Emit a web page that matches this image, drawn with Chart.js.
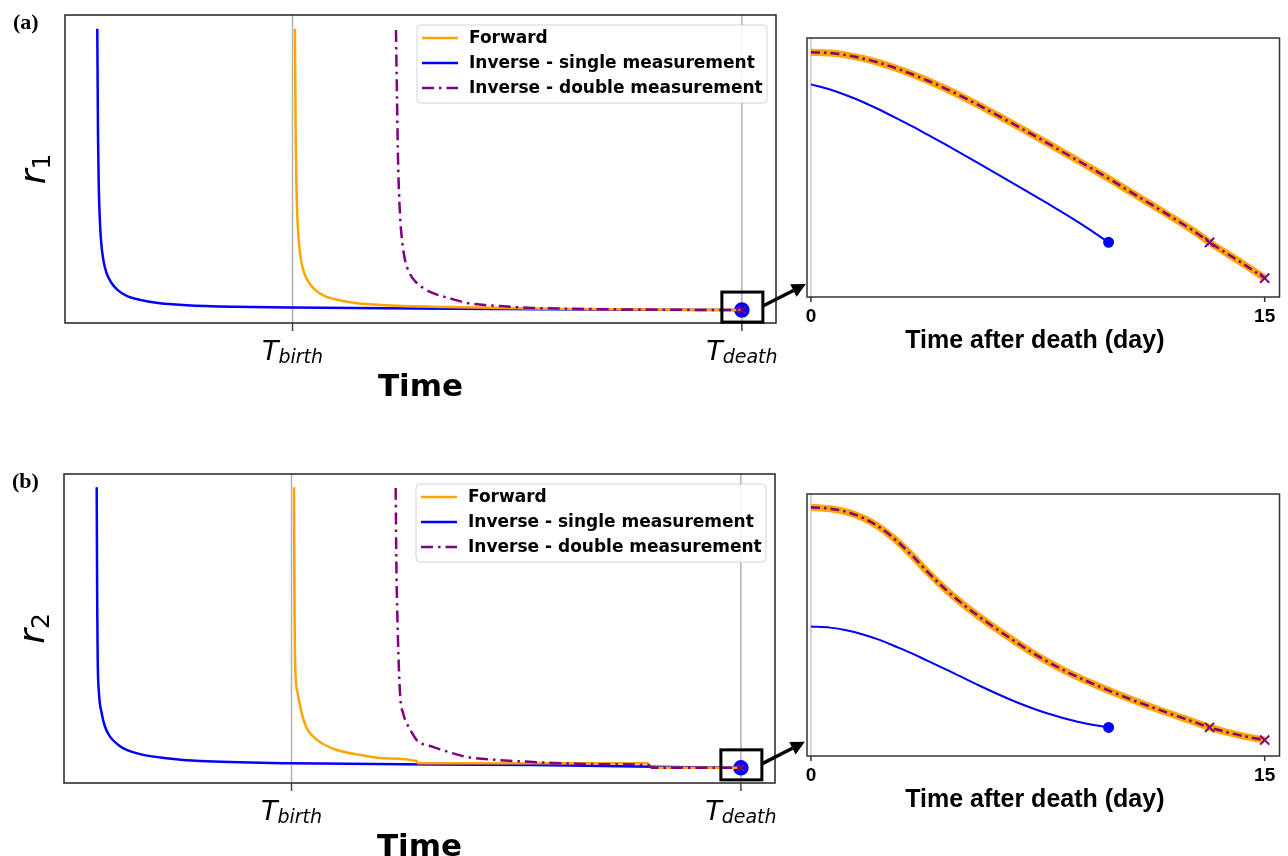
<!DOCTYPE html>
<html>
<head>
<meta charset="utf-8">
<script src="https://cdn.jsdelivr.net/npm/chart.js@4.4.1/dist/chart.umd.min.js"></script>
<style>
  body { margin: 0; background: #fff; width: 1288px; height: 856px; position: relative; overflow: hidden; }
  .box { position: absolute; }
</style>
</head>
<body>
<div class="box" style="left:0;top:0;width:812px;height:410px"><canvas id="mainA"></canvas></div>
<div class="box" style="left:0;top:459px;width:812px;height:397px"><canvas id="mainB"></canvas></div>
<div class="box" style="left:790px;top:20px;width:498px;height:345px"><canvas id="zoomA"></canvas></div>
<div class="box" style="left:790px;top:480px;width:498px;height:376px"><canvas id="zoomB"></canvas></div>
<script>
// main panels: time in arbitrary units (0-100 across the axis), r in arbitrary units
const tBirth = 32;
const tDeath = 95.2;
const legendLabels = ["Forward", "Inverse - single measurement", "Inverse - double measurement"];

const r1ForwardX = [32.34, 32.44, 32.54, 32.68, 32.86, 33.19, 33.66, 34.37, 35.3, 36.48, 38.35, 41.16, 44.92, 51.47, 68.2, 95.2];
const r1ForwardY = [95.5, 61.6, 45.4, 34.5, 27.0, 20.5, 16.1, 12.9, 10.5, 8.8, 7.5, 6.4, 5.8, 5.3, 4.6, 4.2];
const r1SingleX = [4.54, 4.64, 4.74, 4.88, 5.06, 5.39, 5.86, 6.57, 7.5, 8.68, 10.55, 13.36, 17.12, 23.67, 31.97, 54, 75, 95.2];
const r1SingleY = [95.5, 61.6, 45.4, 34.5, 27.0, 20.5, 16.1, 12.9, 10.5, 8.8, 7.5, 6.4, 5.8, 5.3, 5.0, 4.6, 4.4, 4.2];
const r1DoubleX = [46.55, 46.7, 46.84, 47.12, 47.4, 47.82, 48.38, 49.23, 50.35, 51.76, 54.15, 56.54, 61.18, 65.82, 75.25, 84.67, 95.2];
const r1DoubleY = [95.1, 72.4, 52.9, 35.1, 27.0, 20.5, 16.6, 13.6, 11.4, 9.7, 8.0, 6.5, 5.5, 4.9, 4.5, 4.3, 4.2];

const r2ForwardX = [32.35, 32.39, 32.43, 32.49, 32.87, 33.43, 34.04, 35.06, 36.71, 38.35, 41.63, 44.91, 49.6, 49.8, 82.1, 82.7, 95.2];
const r2ForwardY = [95.7, 72.2, 55.0, 39.8, 29.0, 22.6, 18.2, 15.0, 12.3, 10.7, 9.1, 8.0, 7.1, 6.4, 6.4, 4.9, 4.9];
const r2SingleX = [4.6, 4.64, 4.68, 4.74, 4.92, 5.3, 5.77, 6.47, 7.64, 8.82, 11.15, 14.44, 19.13, 32.03, 66, 95.2];
const r2SingleY = [95.7, 72.2, 55.0, 39.8, 29.0, 22.6, 18.2, 15.0, 12.3, 10.7, 9.1, 8.0, 7.1, 6.4, 5.8, 4.9];
const r2DoubleX = [46.65, 46.74, 46.9, 47.26, 47.68, 48.2, 48.8, 49.6, 51.9, 54.29, 56.68, 61.32, 65.96, 75.39, 82.14, 82.7, 95.2];
const r2DoubleY = [95.5, 72.2, 52.8, 29.0, 22.7, 19.4, 16.8, 13.9, 11.7, 9.9, 8.4, 7.4, 6.8, 6.1, 5.8, 4.9, 4.9];

// zoomed panels: days after death
const zoomTickDays = [0, 15];
const zoomDays = [0, 0.63, 1.17, 1.72, 2.27, 2.82, 3.37, 3.91, 4.46, 5.01, 5.56, 6.11, 6.66, 7.2,
  7.75, 8.3, 8.85, 9.4, 9.95, 10.49, 11.04, 11.59, 12.14, 12.69, 13.18, 13.78, 14.33, 15];
const zoomSingleDays = [0, 0.63, 1.17, 1.72, 2.27, 2.82, 3.37, 3.81, 4.46, 5.56, 6.66, 7.75, 8.85, 9.84];
const measureIdx = [24, 27];
const r1ZoomForward = [94.5, 94.2, 93.4, 92.1, 90.4, 88.3, 85.9, 83.3, 80.4, 77.3, 74.0, 70.5, 67.0, 63.5,
  59.9, 56.2, 52.5, 48.8, 45.0, 41.1, 37.2, 33.3, 29.3, 25.2, 21.1, 16.6, 12.5, 7.3];
const r1ZoomDouble = [94.5, 94.2, 93.4, 92.1, 90.4, 88.3, 85.9, 83.3, 80.4, 77.3, 74.0, 70.5, 67.0, 63.5,
  59.9, 56.2, 52.5, 48.8, 45.0, 41.1, 37.2, 33.3, 29.3, 25.2, 21.1, 16.6, 12.5, 7.3];
const r1ZoomSingle = [82.1, 80.1, 77.9, 75.3, 72.3, 69.1, 65.8, 63.0, 58.8, 51.5, 44.1, 36.6, 28.8, 21.1];
const r2ZoomForward = [94.9, 94.4, 93.2, 90.9, 87.3, 82.3, 76.2, 69.6, 63.5, 58.1, 53.2, 48.7, 44.4, 40.3,
  36.5, 33.1, 30.0, 27.2, 24.5, 22.0, 19.6, 17.3, 15.1, 12.9, 10.9, 9.0, 7.5, 6.1];
const r2ZoomDouble = [94.9, 94.4, 93.2, 90.9, 87.3, 82.3, 76.2, 69.6, 63.5, 58.1, 53.2, 48.7, 44.4, 40.3,
  36.5, 33.1, 30.0, 27.2, 24.5, 22.0, 19.6, 17.3, 15.1, 12.9, 10.9, 9.0, 7.5, 6.1];
const r2ZoomSingle = [49.4, 49.0, 48.0, 46.4, 44.3, 41.7, 39.0, 36.6, 33.1, 26.9, 21.2, 16.5, 13.0, 10.9];

const ORANGE = "#ffa500", BLUE = "#0000ff", PURPLE = "#800080";
const DJ = '"DejaVu Sans"';
const LS = '"Liberation Sans", Arial';

function pts(xs, ys) {
  return xs.map((x, i) => ({ x: x, y: ys[i] }));
}

function lastOnly(r) {
  return (c) => (c.dataIndex === c.dataset.data.length - 1 ? r : 0);
}

// base text followed by a subscript, centered on cx
function drawSub(ctx, base, sub, cx, y, baseFont, subFont, drop) {
  ctx.font = baseFont;
  const w1 = ctx.measureText(base).width;
  ctx.font = subFont;
  const w2 = ctx.measureText(sub).width;
  const x0 = cx - (w1 + w2) / 2;
  ctx.textAlign = "left";
  ctx.textBaseline = "alphabetic";
  ctx.font = baseFont;
  ctx.fillText(base, x0, y);
  ctx.font = subFont;
  ctx.fillText(sub, x0 + w1, y + drop);
}

function mainDecor(tag, ySub) {
  return {
    id: "mainDecor",
    beforeDatasetsDraw(chart) {
      const { ctx, chartArea: a, scales: { x } } = chart;
      ctx.save();
      ctx.strokeStyle = "#b0b0b0";
      ctx.lineWidth = 1.5;
      [tBirth, tDeath].forEach((t) => {
        const px = x.getPixelForValue(t);
        ctx.beginPath();
        ctx.moveTo(px, a.top);
        ctx.lineTo(px, a.bottom);
        ctx.stroke();
      });
      ctx.restore();
    },
    afterDatasetsDraw(chart) {
      const { ctx, chartArea: a, scales: { x, y } } = chart;
      ctx.save();
      // frame
      ctx.strokeStyle = "#222";
      ctx.lineWidth = 1.5;
      ctx.strokeRect(a.left, a.top, a.right - a.left, a.bottom - a.top);

      // ticks + labels
      ctx.fillStyle = "#000";
      [["birth", tBirth], ["death", tDeath]].forEach(([s, t]) => {
        const px = x.getPixelForValue(t);
        ctx.strokeStyle = "#444";
        ctx.beginPath();
        ctx.moveTo(px, a.bottom);
        ctx.lineTo(px, a.bottom + 8);
        ctx.stroke();
        drawSub(ctx, "T", s, px, a.bottom + 37, `italic 27px ${DJ}`, `italic 19px ${DJ}`, 3);
      });

      // axis titles
      ctx.font = `bold 31px ${DJ}`;
      ctx.textAlign = "center";
      ctx.fillText("Time", (a.left + a.right) / 2, a.bottom + 73);

      ctx.save();
      ctx.translate(a.left - 20, (a.top + a.bottom) / 2);
      ctx.rotate(-Math.PI / 2);
      drawSub(ctx, "r", ySub, 0, 0, `italic 36px ${DJ}`, `25px ${DJ}`, 5);
      ctx.restore();

      // panel tag
      ctx.font = 'bold 22px "Liberation Serif", "Times New Roman"';
      ctx.textAlign = "left";
      ctx.fillText(tag, a.left - 52, a.top + 14);

      // legend
      const lx = a.left + 352, ly = a.top + 10;
      ctx.beginPath();
      ctx.roundRect(lx, ly, 350, 78, 4);
      ctx.fillStyle = "rgba(255,255,255,0.85)";
      ctx.fill();
      ctx.strokeStyle = "#d4d4d4";
      ctx.lineWidth = 1;
      ctx.stroke();
      chart.data.datasets.forEach((ds, i) => {
        const ry = ly + 13 + i * 25;
        ctx.strokeStyle = ds.borderColor;
        ctx.lineWidth = 2.5;
        ctx.setLineDash(ds.borderDash || []);
        ctx.beginPath();
        ctx.moveTo(lx + 5, ry);
        ctx.lineTo(lx + 41, ry);
        ctx.stroke();
        ctx.setLineDash([]);
        ctx.fillStyle = "#000";
        ctx.font = `bold 17px ${DJ}`;
        ctx.textBaseline = "middle";
        ctx.fillText(ds.label, lx + 52, ry + 1);
      });
      ctx.textBaseline = "alphabetic";

      // zoom box + arrow at the death marker
      const mx = x.getPixelForValue(tDeath);
      const lastY = chart.data.datasets[1].data.slice(-1)[0].y;
      const my = y.getPixelForValue(lastY);
      ctx.strokeStyle = "#000";
      ctx.lineWidth = 3;
      ctx.strokeRect(mx - 20, my - 18, 41, 30);

      const sx = mx + 21, sy = my - 4, tx = mx + 64, ty = my - 26;
      const ang = Math.atan2(ty - sy, tx - sx);
      const c = Math.cos(ang), s = Math.sin(ang);
      const bx = tx - 14 * c, by = ty - 14 * s;
      ctx.lineWidth = 3.5;
      ctx.beginPath();
      ctx.moveTo(sx, sy);
      ctx.lineTo(bx, by);
      ctx.stroke();
      ctx.fillStyle = "#000";
      ctx.beginPath();
      ctx.moveTo(tx, ty);
      ctx.lineTo(bx - 7 * s, by + 7 * c);
      ctx.lineTo(bx + 7 * s, by - 7 * c);
      ctx.closePath();
      ctx.fill();
      ctx.restore();
    }
  };
}

const zoomDecor = {
  id: "zoomDecor",
  beforeDatasetsDraw(chart) {
    const { ctx, chartArea: a, scales: { x } } = chart;
    ctx.save();
    ctx.strokeStyle = "#c8c8c8";
    ctx.lineWidth = 1.5;
    const px = x.getPixelForValue(zoomTickDays[0]);
    ctx.beginPath();
    ctx.moveTo(px, a.top);
    ctx.lineTo(px, a.bottom);
    ctx.stroke();
    ctx.restore();
  },
  afterDatasetsDraw(chart) {
    const { ctx, chartArea: a, scales: { x } } = chart;
    ctx.save();
    ctx.strokeStyle = "#333";
    ctx.lineWidth = 1.5;
    ctx.strokeRect(a.left, a.top, a.right - a.left, a.bottom - a.top);
    ctx.fillStyle = "#000";
    ctx.textAlign = "center";
    ctx.font = `bold 19px ${LS}`;
    zoomTickDays.forEach((d) => {
      const px = x.getPixelForValue(d);
      ctx.beginPath();
      ctx.moveTo(px, a.bottom);
      ctx.lineTo(px, a.bottom + 5);
      ctx.stroke();
      ctx.fillText(String(d), px, a.bottom + 25);
    });
    ctx.font = `bold 25px ${LS}`;
    const cx = (x.getPixelForValue(zoomTickDays[0]) + x.getPixelForValue(zoomTickDays[1])) / 2 - 3;
    ctx.fillText("Time after death (day)", cx, a.bottom + 51);
    ctx.restore();
  }
};

function baseOptions(padding, xMin, xMax) {
  return {
    responsive: true,
    maintainAspectRatio: false,
    animation: false,
    events: [],
    layout: { padding: padding },
    plugins: { legend: { display: false }, tooltip: { enabled: false } },
    scales: {
      x: { type: "linear", display: false, min: xMin, max: xMax },
      y: { display: false, min: 0, max: 100 }
    },
    elements: { line: { cubicInterpolationMode: "monotone", fill: false } }
  };
}

function mainChart(id, tag, ySub, fwd, single, dbl, padding) {
  new Chart(document.getElementById(id), {
    type: "line",
    data: {
      datasets: [
        { label: legendLabels[0], data: fwd, borderColor: ORANGE, borderWidth: 2.5, pointRadius: 0, order: 1 },
        { label: legendLabels[1], data: single, borderColor: BLUE, backgroundColor: BLUE, borderWidth: 2.5,
          pointRadius: lastOnly(6.5), pointStyle: "circle", order: 2 },
        { label: legendLabels[2], data: dbl, borderColor: PURPLE, borderWidth: 2.5, borderDash: [12, 5, 2.5, 5],
          pointRadius: lastOnly(5), pointStyle: "crossRot", pointBorderWidth: 2, order: 0 }
      ]
    },
    options: baseOptions(padding, 0, 100),
    plugins: [mainDecor(tag, ySub)]
  });
}

function zoomChart(id, fwd, dbl, single, padding) {
  new Chart(document.getElementById(id), {
    type: "line",
    data: {
      datasets: [
        { label: legendLabels[0], data: pts(zoomDays, fwd), borderColor: ORANGE, borderWidth: 7, pointRadius: 0, order: 2 },
        { label: legendLabels[1], data: pts(zoomSingleDays, single), borderColor: BLUE, backgroundColor: BLUE,
          borderWidth: 2, pointRadius: lastOnly(4.5), order: 1 },
        { label: legendLabels[2], data: pts(zoomDays, dbl), borderColor: PURPLE, borderWidth: 2.5,
          borderDash: [9, 4, 2.5, 4], pointStyle: "crossRot", pointBorderWidth: 2,
          pointRadius: (c) => (measureIdx.includes(c.dataIndex) ? 6.5 : 0), order: 0 }
      ]
    },
    options: baseOptions(padding, -0.13, 15.49),
    plugins: [zoomDecor]
  });
}

mainChart("mainA", "(a)", "1", pts(r1ForwardX, r1ForwardY), pts(r1SingleX, r1SingleY), pts(r1DoubleX, r1DoubleY),
  { left: 65, top: 15, right: 36, bottom: 87 });
mainChart("mainB", "(b)", "2", pts(r2ForwardX, r2ForwardY), pts(r2SingleX, r2SingleY), pts(r2DoubleX, r2DoubleY),
  { left: 64, top: 15, right: 37, bottom: 73 });
zoomChart("zoomA", r1ZoomForward, r1ZoomDouble, r1ZoomSingle, { left: 17, top: 18, right: 6, bottom: 68 });
zoomChart("zoomB", r2ZoomForward, r2ZoomDouble, r2ZoomSingle, { left: 17, top: 14, right: 6, bottom: 100 });
</script>
</body>
</html>
